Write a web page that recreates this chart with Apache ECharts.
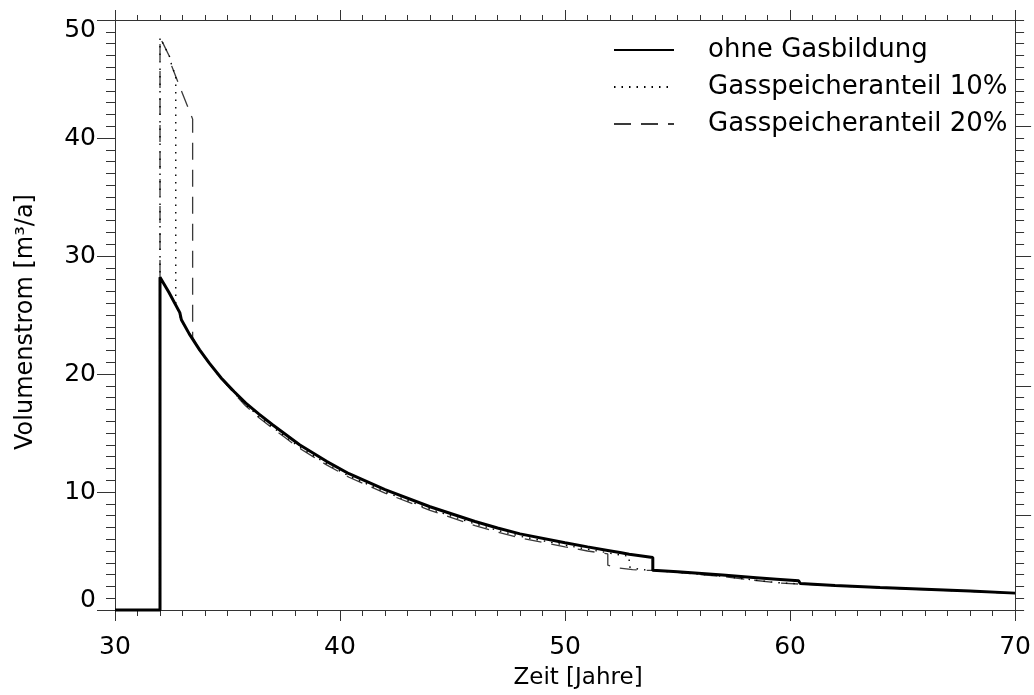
<!DOCTYPE html>
<html>
<head>
<meta charset="utf-8">
<script src="https://cdn.jsdelivr.net/npm/echarts@6/dist/echarts.min.js"></script>
<style>
  html, body { margin: 0; padding: 0; background: #fff; }
  #chart { width: 1034px; height: 695px; }
</style>
</head>
<body>
<div id="chart"></div>
<script>
// Volumenstrom over time: reference case and two gas-storage variants
const seriesNames = ['ohne Gasbildung', 'Gasspeicheranteil 10%', 'Gasspeicheranteil 20%'];

// ohne Gasbildung
const years0 = [30, 32, 32, 32.04, 32.4, 32.88, 32.95, 33.3, 33.76, 34.2, 34.72, 35.3, 35.8, 36.4, 37.0, 37.6, 38.2, 38.8, 39.4, 40.4, 42, 44, 46, 47, 48, 50, 51, 51.9, 52.5, 52.85, 53.9, 53.9, 55, 57, 58.5, 59.4, 60.38, 60.45, 62, 64, 66, 68, 70];
const flow0  = [0, 0, 28.2, 28.2, 26.9, 25.2, 24.6, 23.4, 22.05, 20.9, 19.66, 18.5, 17.55, 16.6, 15.7, 14.85, 14.0, 13.3, 12.6, 11.55, 10.2, 8.75, 7.5, 6.95, 6.45, 5.7, 5.35, 5.05, 4.85, 4.72, 4.45, 3.37, 3.24, 2.96, 2.74, 2.61, 2.47, 2.24, 2.08, 1.9, 1.75, 1.6, 1.43];

// Gasspeicheranteil 10%
const years10 = [30, 32, 32, 32.14, 32.45, 32.52, 32.7, 32.7, 32.95, 33.3, 33.76, 34.2, 34.72, 35.3, 35.8, 36.4, 37.0, 37.6, 38.2, 38.8, 39.4, 40.4, 42, 44, 46, 47, 48, 50, 51, 51.9, 52.5, 52.85, 52.85, 53.3, 53.8, 55, 57, 58.5, 59.4, 60.38, 60.45, 62, 64, 66, 68, 70];
const flow10  = [0, 0, 48.5, 48.0, 46.8, 46.1, 45.3, 25.9, 24.55, 23.35, 22.0, 20.85, 19.6, 18.4, 17.4, 16.4, 15.5, 14.65, 13.8, 13.1, 12.4, 11.35, 10.0, 8.55, 7.3, 6.75, 6.25, 5.5, 5.15, 4.85, 4.65, 4.55, 3.65, 3.45, 3.36, 3.2, 2.86, 2.52, 2.32, 2.22, 2.22, 2.07, 1.89, 1.74, 1.59, 1.42];

// Gasspeicheranteil 20%
const years20 = [30, 32, 32, 32.14, 32.45, 32.52, 32.95, 33.45, 33.45, 33.76, 34.2, 34.72, 35.3, 35.8, 36.4, 37.0, 37.6, 38.2, 38.8, 39.4, 40.4, 42, 44, 46, 47, 48, 50, 51, 51.9, 51.9, 52.4, 53.0, 53.8, 55, 57, 58.5, 59.4, 60.38, 60.45, 62, 64, 66, 68, 70];
const flow20  = [0, 0, 48.5, 48.0, 46.8, 46.1, 44.0, 41.6, 23.1, 22.0, 20.85, 19.6, 18.35, 17.3, 16.3, 15.4, 14.55, 13.7, 13.0, 12.3, 11.25, 9.9, 8.45, 7.15, 6.6, 6.1, 5.35, 5.0, 4.75, 3.8, 3.55, 3.42, 3.35, 3.18, 2.84, 2.5, 2.3, 2.2, 2.2, 2.06, 1.88, 1.73, 1.58, 1.41];

// axis ticks
const xTicksMajor = 10;
const yTicksMajor = 10;
const rightMajorTicks = [8, 19, 30, 41];

const FONT = 'DejaVu Sans';
const frameColor = '#333';

const pairs = (xs, ys) => xs.map((x, i) => [x, ys[i]]);

const chart = echarts.init(document.getElementById('chart'), null, { renderer: 'canvas' });

const option = {
  backgroundColor: '#fff',
  animation: false,
  textStyle: { fontFamily: FONT, color: '#000' },
  grid: { left: 115, right: 15, top: 20, bottom: 82, containLabel: false },
  legend: {
    orient: 'vertical',
    left: 613,
    top: 37,
    padding: 0,
    itemWidth: 60,
    itemHeight: 25,
    itemGap: 11,
    itemStyle: { opacity: 0 },
    textStyle: { fontFamily: FONT, fontSize: 26, color: '#000', padding: [0, 0, 0, 29] },
    data: seriesNames
  },
  xAxis: [
    {
      type: 'value', position: 'bottom', min: 30, max: 70, interval: xTicksMajor,
      name: 'Zeit [Jahre]', nameLocation: 'middle', nameGap: 57,
      nameTextStyle: { fontFamily: FONT, fontSize: 23, color: '#000', padding: [0, 0, 0, 26] },
      axisLine: { show: true, onZero: false, lineStyle: { color: frameColor, width: 1 } },
      axisTick: { show: true, inside: false, length: 11, lineStyle: { color: frameColor } },
      minorTick: { show: true, splitNumber: 10, length: 6, lineStyle: { color: frameColor } },
      axisLabel: { fontFamily: FONT, fontSize: 25, color: '#000', margin: 25 },
      splitLine: { show: false }
    },
    {
      type: 'value', position: 'top', min: 30, max: 70, interval: xTicksMajor,
      axisLine: { show: true, onZero: false, lineStyle: { color: frameColor, width: 1 } },
      axisTick: { show: true, inside: false, length: 10, lineStyle: { color: frameColor } },
      minorTick: { show: true, splitNumber: 10, length: 5, lineStyle: { color: frameColor } },
      axisLabel: { show: false },
      splitLine: { show: false }
    }
  ],
  yAxis: [
    {
      type: 'value', position: 'left', min: 0, max: 50, interval: yTicksMajor,
      name: 'Volumenstrom [m³/a]', nameLocation: 'middle', nameGap: 77, nameRotate: 90,
      nameTextStyle: { fontFamily: FONT, fontSize: 24, color: '#000', padding: [0, 14, 0, 0] },
      axisLine: { show: true, onZero: false, lineStyle: { color: frameColor, width: 1 } },
      axisTick: { show: true, inside: false, length: 18, lineStyle: { color: frameColor } },
      minorTick: { show: true, splitNumber: 10, length: 9, lineStyle: { color: frameColor } },
      axisLabel: {
        fontFamily: FONT, fontSize: 25, lineHeight: 20, color: '#000', margin: 19,
        verticalAlignMinLabel: 'bottom', verticalAlignMaxLabel: 'top'
      },
      splitLine: { show: false }
    },
    {
      type: 'value', position: 'right', min: 0, max: 50, interval: 1,
      axisLine: { show: true, onZero: false, lineStyle: { color: frameColor, width: 1 } },
      axisTick: { show: true, inside: false, length: 9, lineStyle: { color: frameColor } },
      axisLabel: { show: false },
      splitLine: { show: false }
    },
    {
      type: 'value', position: 'right', min: 0, max: 50,
      axisLine: { show: false },
      axisTick: { show: true, inside: false, length: 16, customValues: rightMajorTicks, lineStyle: { color: frameColor } },
      axisLabel: { show: false },
      splitLine: { show: false }
    }
  ],
  series: [
    {
      name: seriesNames[2], type: 'line', data: pairs(years20, flow20),
      symbol: 'none', clip: false, z: 2,
      lineStyle: { color: '#3a3a3a', width: 1.3, type: [17, 10] }
    },
    {
      name: seriesNames[1], type: 'line', data: pairs(years10, flow10),
      symbol: 'none', clip: false, z: 3,
      lineStyle: { color: '#000', width: 1.4, type: [1.5, 6] }
    },
    {
      name: seriesNames[0], type: 'line', data: pairs(years0, flow0),
      symbol: 'none', clip: false, z: 4,
      lineStyle: { color: '#000', width: 3, type: 'solid' }
    }
  ]
};

chart.setOption(option);
</script>
</body>
</html>
